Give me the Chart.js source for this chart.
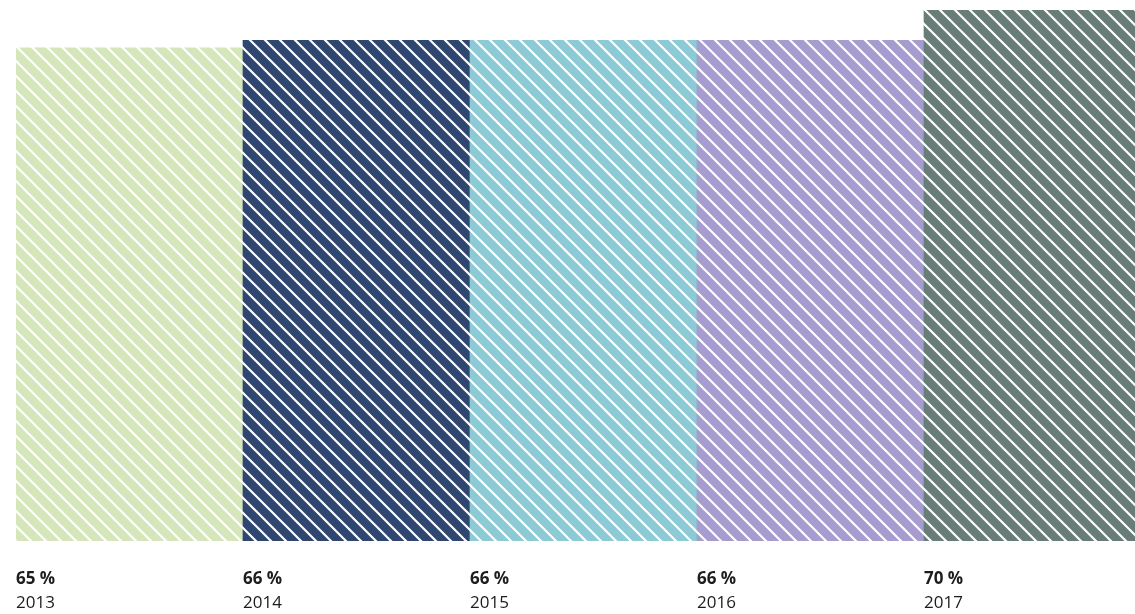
<!DOCTYPE html>
<html>
<head>
<meta charset="utf-8">
<script src="https://cdn.jsdelivr.net/npm/chart.js@4"></script>
<style>
  html, body { margin: 0; padding: 0; background: #ffffff; overflow: hidden; }
  #wrap { position: relative; width: 1151px; height: 614px; }
</style>
</head>
<body>
<div id="wrap"><canvas id="myChart"></canvas></div>
<script>
const years = ["2013", "2014", "2015", "2016", "2017"];
const values = [65, 66, 66, 66, 70];
const percentLabels = ["65 %", "66 %", "66 %", "66 %", "70 %"];
const barColors = ["#d6e6bb", "#2e4670", "#8ccad6", "#a69ccf", "#687d77"];

const ctx = document.getElementById("myChart").getContext("2d");

function stripePattern(color) {
  const size = 15;
  const tile = document.createElement("canvas");
  tile.width = size;
  tile.height = size;
  const t = tile.getContext("2d");
  t.fillStyle = color;
  t.fillRect(0, 0, size, size);
  t.strokeStyle = "#ffffff";
  t.lineWidth = 2.2;
  t.beginPath();
  t.moveTo(-2, -2);
  t.lineTo(size + 2, size + 2);
  t.moveTo(-2, size - 2);
  t.lineTo(2, size + 2);
  t.moveTo(size - 2, -2);
  t.lineTo(size + 2, 2);
  t.stroke();
  return ctx.createPattern(tile, "repeat");
}

const labelPlugin = {
  id: "bottomLabels",
  afterDraw(chart) {
    const c = chart.ctx;
    const meta = chart.getDatasetMeta(0);
    c.save();
    c.fillStyle = "#1d1d1b";
    c.textAlign = "left";
    c.textBaseline = "alphabetic";
    meta.data.forEach((bar, i) => {
      const left = bar.x - bar.width / 2;
      c.font = "bold 17px 'Open Sans'";
      c.fillText(percentLabels[i], left, 584);
      c.font = "17px 'Open Sans'";
      c.fillText(years[i], left, 608);
    });
    c.restore();
  },
};

const myChart = new Chart(ctx, {
  type: "bar",
  data: {
    labels: years,
    datasets: [
      {
        data: values,
        backgroundColor: barColors.map(stripePattern),
        borderWidth: 0,
        barPercentage: 1,
        categoryPercentage: 1,
      },
    ],
  },
  options: {
    responsive: true,
    maintainAspectRatio: false,
    animation: false,
    layout: { padding: { left: 16, top: 10, bottom: 73, right: 0 } },
    plugins: { legend: { display: false }, tooltip: { enabled: false } },
    scales: {
      x: { display: false, grid: { display: false } },
      y: { display: false, min: 0, max: 70, grid: { display: false } },
    },
  },
  plugins: [labelPlugin],
});
</script>
</body>
</html>
